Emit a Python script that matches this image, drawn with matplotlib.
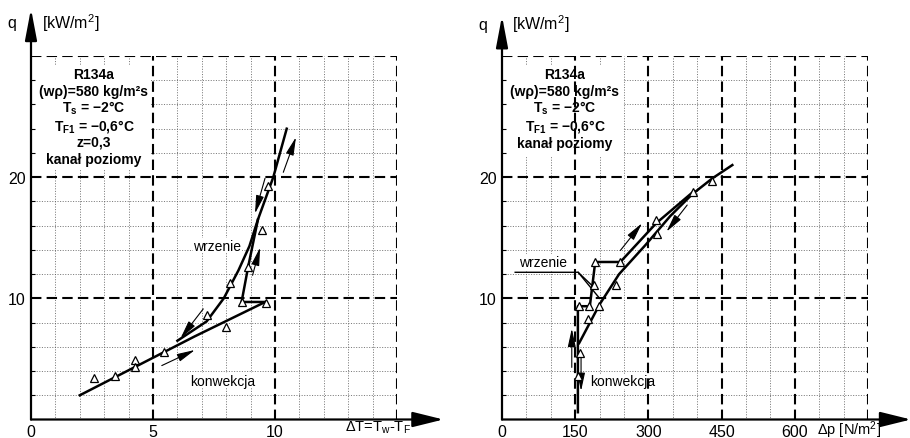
import matplotlib
matplotlib.use('Agg')
import matplotlib.pyplot as plt
from matplotlib.patches import Rectangle

plt.rcParams['font.family'] = ['Liberation Sans', 'DejaVu Sans']
plt.rcParams['mathtext.default'] = 'regular'

# ---- left panel: q [kW/m2] vs dT [K] ----
dt_conv = [2.0, 6.7, 9.6]
q_conv = [2.0, 6.85, 9.7]
dt_boil = [6.0, 7.2, 7.9, 8.5, 8.95, 9.3, 9.93, 10.48]
q_boil = [6.5, 8.1, 10.0, 12.3, 14.3, 16.5, 20.0, 24.0]
dt_rise = [9.62, 8.63, 8.9, 9.3]
q_rise = [9.7, 9.7, 12.6, 16.5]
dt_pts = [2.6, 3.44, 4.26, 4.26, 5.46, 7.2, 7.98, 8.16, 8.63, 9.62, 8.9, 9.45, 9.73]
q_pts_dt = [3.4, 3.6, 4.95, 4.3, 5.6, 8.6, 7.6, 11.25, 9.7, 9.6, 12.6, 15.6, 19.3]
# direction arrows (x0, y0, x1, y1)
dt_arrows = [(5.36, 4.45, 6.72, 5.74),
             (7.06, 9.13, 6.13, 6.71),
             (9.08, 11.9, 9.39, 14.2),
             (9.59, 19.9, 9.18, 17.0),
             (10.34, 20.4, 10.86, 23.3)]

# ---- right panel: q [kW/m2] vs dp [N/m2] ----
dp_boil = [158, 200, 240, 294, 345, 390, 431, 472]
q_boil_dp = [6.3, 9.5, 12.0, 14.4, 16.8, 18.6, 19.9, 21.0]
dp_rise = [155.5, 155.5, 180, 191, 242.5, 316, 392]
q_rise_dp = [0.6, 9.35, 9.35, 13.0, 13.0, 16.2, 18.8]
dp_pts = [157, 179, 199, 160, 155.5, 176, 191, 242.5, 188, 234, 316, 318, 392, 431]
q_pts_dp = [9.35, 9.35, 9.35, 5.47, 3.57, 8.3, 13.0, 13.0, 11.06, 11.06, 16.5, 15.3, 18.8, 19.65]
dp_arrows = [(143, 4.3, 143, 7.5),
             (162, 5.55, 162, 2.35),
             (242.5, 13.95, 287, 16.2),
             (379.5, 17.7, 337, 15.5)]
dp_leader = ([27, 156, 200], [12.15, 12.15, 10.0])
dp_leader2 = ([156, 186], [12.15, 11.0])

q_major = [10, 20, 30]
q_minor = [2, 4, 6, 8, 12, 14, 16, 18, 22, 24, 26, 28]

left_info = ['R134a', '(wρ)=580 kg/m²s', 'T$_s$ = −2°C',
             'T$_{F1}$ = −0,6°C', 'z=0,3', 'kanał poziomy']
right_info = ['R134a', '(wρ)=580 kg/m²s', 'T$_s$ = −2°C',
              'T$_{F1}$ = −0,6°C', 'kanał poziomy']

DASH = (0, (5, 2.5))
DOT = (0, (1.4, 2.0))


def frame(ax, xmax, xmajor, xminor, xticks, xlabel, xlabel_pos, xtip, ytip):
    '''
    Grid, axis arrows and tick labels for one panel
    '''
    ax.set_xlim(0, xmax)
    ax.set_ylim(0, 30)
    for s in ax.spines.values():
        s.set_visible(False)
    ax.vlines(xminor, 0, 30, colors='0.35', lw=0.55, linestyles=DOT, zorder=1)
    ax.hlines(q_minor, 0, xmax, colors='0.35', lw=0.55, linestyles=DOT, zorder=1)
    ax.vlines(xmajor, 0, 30, colors='k', lw=1.5, linestyles=DASH, zorder=2)
    ax.hlines(q_major, 0, xmax, colors='k', lw=1.5, linestyles=DASH, zorder=2)

    ax.set_xticks(xticks)
    ax.set_xticklabels([str(t) for t in xticks])
    ax.set_yticks([10, 20])
    ax.set_yticks(q_minor, minor=True)
    ax.set_xticks([], minor=True)
    ax.tick_params(which='major', length=0, labelsize=11.5, pad=3)
    ax.tick_params(axis='y', which='major', pad=4)
    ax.tick_params(axis='y', which='minor', direction='in', length=3, width=0.8)

    arrow = dict(lw=1.6, color='k', shrinkA=0, shrinkB=0, mutation_scale=10)
    ax.annotate('', xy=(xtip, 0), xytext=(0, 0), annotation_clip=False,
                arrowprops=dict(arrowstyle='-|>,head_length=1.9,head_width=0.47', **arrow))
    ax.annotate('', xy=(0, ytip), xytext=(0, 0), annotation_clip=False,
                arrowprops=dict(arrowstyle='-|>,head_length=1.9,head_width=0.36', **arrow))
    ax.annotate(xlabel, xy=(xlabel_pos, 0), xytext=(0, 1), textcoords='offset points',
                ha='center', va='top', fontsize=10.5, annotation_clip=False)


def flow_arrows(ax, arrows):
    for x0, y0, x1, y1 in arrows:
        ax.annotate('', xy=(x1, y1), xytext=(x0, y0),
                    arrowprops=dict(arrowstyle='-|>,head_length=1.1,head_width=0.24',
                                    lw=0.8, color='k', shrinkA=0, shrinkB=0,
                                    mutation_scale=10), zorder=4)


def info_box(ax, lines, xc, ys, box):
    ax.add_patch(Rectangle((box[0], box[1]), box[2], box[3], facecolor='white',
                           edgecolor='none', zorder=1.5))
    for txt, y in zip(lines, ys):
        ax.text(xc, y, txt, ha='center', va='center', fontsize=10, fontweight='bold',
                zorder=3)


fig = plt.figure(figsize=(9.1, 4.39), dpi=100)
axL = fig.add_axes([31 / 910, 18.5 / 439, 366 / 910, 363.5 / 439])
axR = fig.add_axes([502 / 910, 18.5 / 439, 366 / 910, 363.5 / 439])

# left panel
frame(axL, 15, [5, 10, 15], [1, 2, 3, 4, 6, 7, 8, 9, 11, 12, 13, 14], [0, 5, 10],
      'ΔT=T$_w$-T$_F$', 14.2, 16.9, 33.9)
axL.text(-0.78, 32.8, 'q', ha='center', va='center', fontsize=11.5)
axL.text(0.45, 32.8, '[kW/m$^2$]', ha='left', va='center', fontsize=11.5)
info_box(axL, left_info, 2.58, [28.55, 27.15, 25.75, 24.3, 22.93, 21.5],
         (0.16, 20.7, 4.76, 8.5))
axL.plot(dt_conv, q_conv, color='k', lw=1.8, zorder=3)
axL.plot(dt_boil, q_boil, color='k', lw=1.8, zorder=3)
axL.plot(dt_rise, q_rise, color='k', lw=1.8, zorder=3)
axL.plot(dt_pts, q_pts_dt, linestyle='none', marker='^', ms=6, mfc='white',
         mec='k', mew=0.9, zorder=5)
flow_arrows(axL, dt_arrows)
bb = dict(facecolor='white', edgecolor='none', pad=0.5)
axL.text(7.64, 14.36, 'wrzenie', ha='center', va='center', fontsize=10, zorder=1.5, bbox=bb)
axL.text(7.85, 3.2, 'konwekcja', ha='center', va='center', fontsize=10, zorder=1.5, bbox=bb)

# right panel
frame(axR, 750, [150, 300, 450, 600, 750],
      [50, 100, 200, 250, 350, 400, 500, 550, 650, 700], [0, 150, 300, 450, 600],
      'Δp [N/m$^2$]', 711, 838, 33.3)
axR.text(-39, 32.6, 'q', ha='center', va='center', fontsize=11.5)
axR.text(20.5, 32.7, '[kW/m$^2$]', ha='left', va='center', fontsize=11.5)
info_box(axR, right_info, 129, [28.55, 27.15, 25.8, 24.3, 22.8],
         (6, 21.7, 241, 7.5))
axR.plot(dp_boil, q_boil_dp, color='k', lw=1.8, zorder=3)
axR.plot(dp_rise, q_rise_dp, color='k', lw=1.8, zorder=3)
axR.plot(*dp_leader, color='k', lw=1.0, zorder=3)
axR.plot(*dp_leader2, color='k', lw=1.0, zorder=3)
axR.plot(dp_pts, q_pts_dp, linestyle='none', marker='^', ms=6, mfc='white',
         mec='k', mew=0.9, zorder=5)
flow_arrows(axR, dp_arrows)
axR.text(84, 13.0, 'wrzenie', ha='center', va='center', fontsize=10, zorder=1.5, bbox=bb)
axR.text(181, 3.15, 'konwekcja', ha='left', va='center', fontsize=10, zorder=1.5, bbox=bb)

fig.savefig('out.png', dpi=100)
